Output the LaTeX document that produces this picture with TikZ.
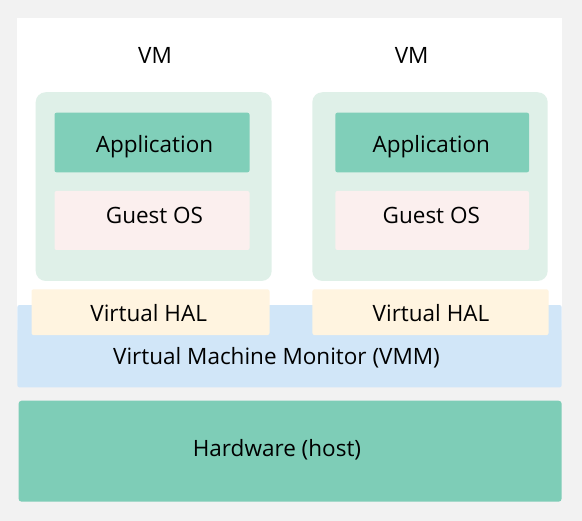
\documentclass[tikz,border=0pt]{standalone}
\usepackage{fontspec}
\setmainfont{Open Sans}
\definecolor{bg}{HTML}{F2F2F2}
\definecolor{vmfill}{HTML}{DFF0E8}
\definecolor{appfill}{HTML}{80CFB9}
\definecolor{osfill}{HTML}{FBEFEE}
\definecolor{halfill}{HTML}{FFF4E0}
\definecolor{vmmfill}{HTML}{D1E6F8}
\definecolor{hwfill}{HTML}{7ECDB7}
\begin{document}
\begin{tikzpicture}[x=1pt,y=-1pt,
  every node/.style={inner sep=0pt,outer sep=0pt,font=\fontsize{22.5}{26}\selectfont,text=black},
  blk/.style={rectangle,draw=none,rounded corners=2pt},
  vmbox/.style={blk,fill=vmfill,rounded corners=10pt,minimum width=236pt,minimum height=188.7pt},
  appbox/.style={blk,fill=appfill,minimum width=195pt,minimum height=59.6pt},
  osbox/.style={blk,fill=osfill,minimum width=195pt,minimum height=59pt},
  halbox/.style={blk,fill=halfill,minimum width=237pt,minimum height=45.7pt},
  lbl/.style={rectangle,anchor=base}
]
\useasboundingbox (0,0) rectangle (582,521);
\fill[bg] (0,0) rectangle (582,521);
\fill[white] (17,18) rectangle (562,330);

\node[lbl] (vmlabel1) at (155,63.3) {VM};
\node[lbl] (vmlabel2) at (411.7,63.3) {VM};

\node[vmbox] (vm1) at (153.7,186.6) {};
\node[vmbox,minimum width=235.4pt] (vm2) at (430,186.6) {};

\node[appbox] (app1) at (152,142.5) {};
\node[appbox,minimum width=193.7pt] (app2) at (432.2,142.5) {};
\node[osbox] (os1) at (152,220.5) {};
\node[osbox,minimum width=193.7pt] (os2) at (432.2,220.5) {};
\node[lbl] (applbl1) at (154.5,152.3) {Application};
\node[lbl] (applbl2) at (431.3,152.3) {Application};
\node[lbl] (oslbl1) at (154.5,223.3) {Guest OS};
\node[lbl] (oslbl2) at (431.3,223.3) {Guest OS};

\node[blk,fill=vmmfill,minimum width=544.2pt,minimum height=82.3pt] (vmm) at (289.5,346.2) {};
\node[lbl] (vmmlabel) at (276.5,365) {Virtual Machine Monitor (VMM)};

\node[halbox,minimum width=238pt] (hal1) at (150.5,312.2) {};
\node[halbox,minimum width=236.1pt] (hal2) at (430.5,312.2) {};
\node[lbl] (hallbl1) at (148.7,321.7) {Virtual HAL};
\node[lbl] (hallbl2) at (431,321.7) {Virtual HAL};

\node[blk,fill=hwfill,rounded corners=3pt,minimum width=543pt,minimum height=101pt] (hw) at (290.1,451.2) {};
\node[lbl] (hwlabel) at (277,456.8) {Hardware (host)};
\end{tikzpicture}
\end{document}
